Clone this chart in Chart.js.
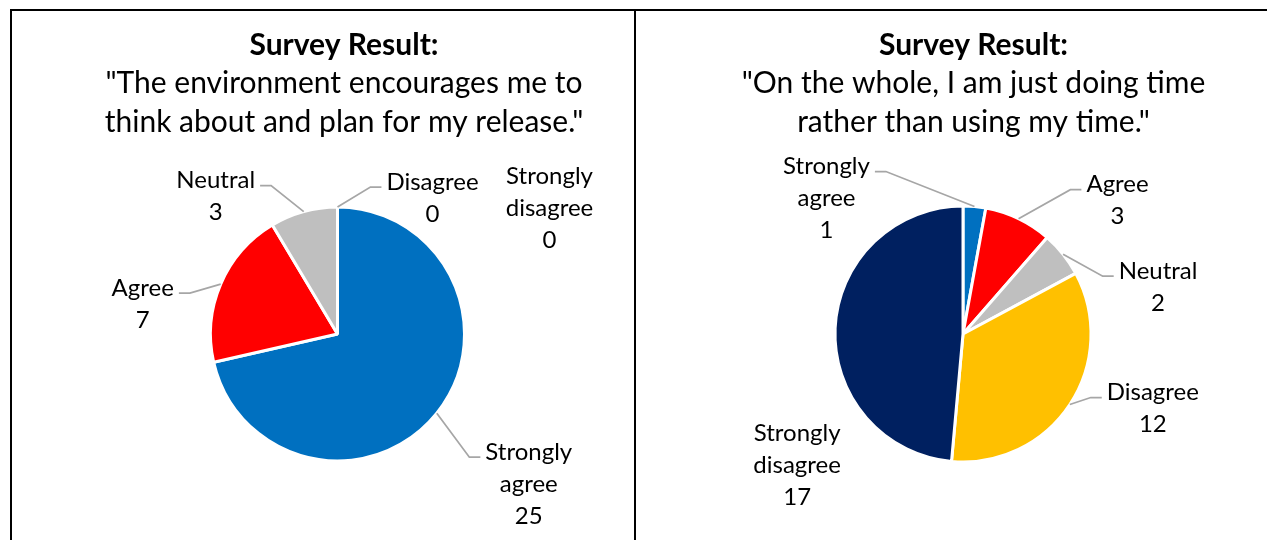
<!DOCTYPE html>
<html>
<head>
<meta charset="utf-8">
<script src="https://cdn.jsdelivr.net/npm/chart.js@4/dist/chart.umd.min.js"></script>
<style>
  html, body { margin: 0; padding: 0; background: #fff; width: 1267px; height: 540px; overflow: hidden; }
  .rule { position: absolute; background: #000; }
  .panel { position: absolute; top: 11px; height: 529px; }
  #panelRelease { left: 12px; width: 622px; }
  #panelDoingTime { left: 636px; width: 631px; }
</style>
</head>
<body>
<div class="rule" style="left:10px;top:9px;width:1257px;height:2px;"></div>
<div class="rule" style="left:10px;top:9px;width:2px;height:531px;"></div>
<div class="rule" style="left:634px;top:9px;width:2px;height:531px;"></div>
<div class="panel" id="panelRelease"><canvas id="chartRelease"></canvas></div>
<div class="panel" id="panelDoingTime"><canvas id="chartDoingTime"></canvas></div>
<script>
// Answer categories shared by both survey questions
const categories = ['Strongly agree', 'Agree', 'Neutral', 'Disagree', 'Strongly disagree'];
const sliceColors = ['#0070C0', '#FF0000', '#BFBFBF', '#FFC000', '#002060'];

// Response counts
const releaseValues = [25, 7, 3, 0, 0];
const doingTimeValues = [1, 3, 2, 12, 17];

// Headings
const releaseHeading = ['Survey Result:', '"The environment encourages me to', 'think about and plan for my release."'];
const doingTimeHeading = ['Survey Result:', '"On the whole, I am just doing time', 'rather than using my time."'];

// Where each data label sits relative to the outer midpoint of its slice
const releaseLabelPlacement = [
  { dx: 92, dy: 71, leader: true },
  { dx: -78, dy: 20, leader: true },
  { dx: -88, dy: -15, leader: true },
  { dx: 95, dy: -9, leader: true },
  { dx: 212, dy: 1, leader: false }
];
const doingTimeLabelPlacement = [
  { dx: -148, dy: -8, leader: true },
  { dx: 99, dy: -18, leader: true },
  { dx: 95, dy: 33, leader: true },
  { dx: 83, dy: 4, leader: true },
  { dx: -38, dy: 137, leader: false }
];

const FONT_FAMILY = 'Lato, "Open Sans", sans-serif';
const LABEL_FONT = '24px ' + FONT_FAMILY;
const LABEL_LINE = 32;
const LEADER_GAP = 5;
const LEADER_ELBOW = 11;

function sliceLabels(values, placement) {
  return {
    id: 'sliceLabels',
    afterDatasetsDraw(chart) {
      const ctx = chart.ctx;
      const arcs = chart.getDatasetMeta(0).data;
      ctx.save();
      ctx.font = LABEL_FONT;
      arcs.forEach((arc, i) => {
        const p = arc.getProps(['x', 'y', 'startAngle', 'endAngle', 'outerRadius'], true);
        const mid = (p.startAngle + p.endAngle) / 2;
        const ax = p.x + Math.cos(mid) * p.outerRadius;
        const ay = p.y + Math.sin(mid) * p.outerRadius;
        const place = placement[i];
        const lines = categories[i].split(' ').concat(String(values[i]));
        const cx = ax + place.dx;
        const cy = ay + place.dy;
        const top = cy - (lines.length - 1) / 2 * LABEL_LINE;
        const w = Math.max(...lines.map(l => ctx.measureText(l).width));
        if (place.leader) {
          const toRight = place.dx > 0;
          const ex = toRight ? cx - w / 2 - LEADER_GAP : cx + w / 2 + LEADER_GAP;
          const ey = top + 5;
          const bx = toRight ? ex - LEADER_ELBOW : ex + LEADER_ELBOW;
          ctx.beginPath();
          ctx.moveTo(ax, ay);
          ctx.lineTo(bx, ey);
          ctx.lineTo(ex, ey);
          ctx.strokeStyle = '#A6A6A6';
          ctx.lineWidth = 1.75;
          ctx.stroke();
        }
        ctx.fillStyle = '#000';
        ctx.textAlign = 'center';
        ctx.textBaseline = 'middle';
        lines.forEach((l, k) => ctx.fillText(l, cx, top + k * LABEL_LINE));
      });
      ctx.restore();
    }
  };
}

function heading(lines, dx) {
  return {
    id: 'heading',
    afterDraw(chart) {
      const ctx = chart.ctx;
      const x = chart.width / 2 + dx;
      const ys = [34, 72, 111];
      ctx.save();
      ctx.fillStyle = '#000';
      ctx.textAlign = 'center';
      ctx.textBaseline = 'middle';
      lines.forEach((l, k) => {
        ctx.font = (k === 0 ? 'bold 30px ' : '30px ') + FONT_FAMILY;
        ctx.fillText(l, x, ys[k]);
      });
      ctx.restore();
    }
  };
}

function pieChart(canvasId, values, radius, padding, headingLines, headingDx, placement) {
  return new Chart(document.getElementById(canvasId), {
    type: 'pie',
    data: {
      labels: categories,
      datasets: [{
        data: values,
        backgroundColor: sliceColors,
        borderColor: '#FFFFFF',
        borderWidth: 3
      }]
    },
    options: {
      responsive: true,
      maintainAspectRatio: false,
      animation: false,
      radius: radius,
      layout: { padding: padding },
      plugins: {
        legend: { display: false },
        tooltip: { enabled: false },
        title: { display: false }
      }
    },
    plugins: [sliceLabels(values, placement), heading(headingLines, headingDx)]
  });
}

pieChart('chartRelease', releaseValues, 127,
  { left: 29, right: 0, top: 130, bottom: 13 },
  releaseHeading, 21, releaseLabelPlacement);
pieChart('chartDoingTime', doingTimeValues, 128,
  { left: 23, right: 0, top: 130, bottom: 13 },
  doingTimeHeading, 22, doingTimeLabelPlacement);
</script>
</body>
</html>
